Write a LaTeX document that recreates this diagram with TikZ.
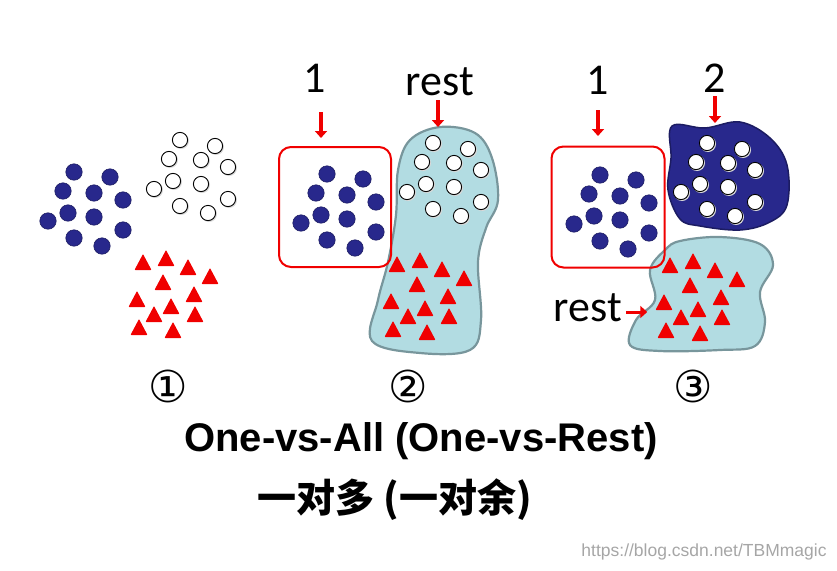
\documentclass[tikz,border=0pt]{standalone}
\usepackage{fontspec}
\setmainfont{Carlito}
\newfontfamily\titlefont{Liberation Sans}
\newfontfamily\symfont{DejaVu Sans}
\newfontfamily\cjk{Noto Sans CJK SC}
\usetikzlibrary{arrows.meta,positioning}
\definecolor{dotblue}{RGB}{40,40,140}
\definecolor{blobblue}{RGB}{178,220,226}
\definecolor{blobedge}{RGB}{120,150,156}
\definecolor{triared}{RGB}{240,0,0}
\tikzset{blue dot/.style={fill=dotblue, draw=dotblue!70!black, line width=0.6pt}}
\tikzset{white dot/.style={fill=white, draw=black, line width=0.9pt}}
\tikzset{red tri/.style={fill=triared, rounded corners=0.8pt}}
\tikzset{class box/.style={draw=triared, line width=2pt, rounded corners=12pt}}
\tikzset{rest blob/.style={fill=blobblue, draw=blobedge, line width=2.2pt}}
\tikzset{dark blob/.style={fill=dotblue, draw=dotblue!70!black, line width=1.5pt}}
\tikzset{red arrow/.style={draw=triared, line width=3.6pt, -{Triangle[length=7pt,width=12pt]}}}
\tikzset{big label/.style={font=\fontsize{44}{44}\selectfont, inner sep=0pt}}
\tikzset{circled/.style={font=\symfont\fontsize{44}{44}\selectfont, inner sep=0pt}}
\tikzset{
  blue group/.pic={
    \foreach \x/\y in {74/172,110/177,63/191,94/193,123/200,68/213,94/217,48/221,123/230,74/238,102/246}
      \path[blue dot] (\x,\y) circle (8.2pt);
  },
  white group/.pic={
    \foreach \x/\y in {180/140,215/146,169/159,201/160,228/167,173/181,201/184,154/189,228/199,180/206,208/213}
      {\fill[black!15] (\x+1,\y+1) circle (8pt);
       \path[white dot] (\x,\y) circle (7.6pt);}
  },
  red group/.pic={
    \foreach \x/\y in {143/263,166/259,188/268,210/277,163/283,194/295,137/300,171/307,154/315,195/315,139/328,173/331}
      \path[red tri] (\x-8.5,\y+7) -- (\x+8.5,\y+7) -- (\x,\y-9) -- cycle;
  }
}
\begin{document}
\begin{tikzpicture}[x=1pt, y=-1pt]
  \useasboundingbox (0,0) rectangle (837,570);

  % panel 1
  \pic at (0,0) {blue group};
  \pic at (0,0) {white group};
  \pic at (0,0) {red group};
  \node [circled] (n1) at (168,386) {①};

  % panel 2
  \path[rest blob] plot[smooth cycle, tension=0.6] coordinates {(440,127) (475,133) (492,158) (498,200) (486,228) (478,262) (481,320) (470,350) (420,353) (372,341) (378,300) (388,262) (396,215) (398,170) (410,140)};
  \node [class box, minimum width=112pt, minimum height=120pt] (box2) at (335,207) {};
  \pic at (253,2) {blue group};
  \pic at (253,3) {white group};
  \pic at (254,2) {red group};
  \node [big label] (one2) at (315,78) {1};
  \node [big label] (rest2) at (440,82) {rest};
  \coordinate (a2) at (321,112);
  \coordinate (b2) at (321,138);
  \coordinate (c2) at (438,100);
  \coordinate (d2) at (438,127);
  \draw [red arrow] (a2) -- (b2);
  \draw [red arrow] (c2) -- (d2);
  \node [circled] (n2) at (408,386) {②};

  % panel 3
  \path[dark blob] plot[smooth cycle, tension=0.6] coordinates {(672,126) (705,128) (740,122) (770,138) (787,165) (787,205) (770,222) (740,230) (700,226) (680,219) (668,190) (671,158)};
  \path[rest blob] plot[smooth cycle, tension=0.6] coordinates {(680,241) (720,237) (760,244) (773,265) (760,292) (765,322) (755,346) (720,350) (660,351) (630,345) (636,320) (655,300) (650,270) (665,250)};
  \node [class box, minimum width=113pt, minimum height=121pt] (box3) at (608,207) {};
  \pic at (526,3) {blue group};
  \pic at (527,3) {white group};
  \pic at (527,3) {red group};
  \node [big label] (one3) at (598,80) {1};
  \node [big label] (two3) at (715,78) {2};
  \node [big label] (rest3) at (588,308) {rest};
  \coordinate (a3) at (598,110);
  \coordinate (b3) at (598,136);
  \coordinate (c3) at (715,96);
  \coordinate (d3) at (715,123);
  \draw [red arrow] (a3) -- (b3);
  \draw [red arrow] (c3) -- (d3);
  \draw [red arrow, line width=3pt] (rest3.east) ++(4,4) coordinate (e3) -- ++(21,0) coordinate (f3);
  \node [circled] (n3) at (693,386) {③};

  % captions
  \node [font=\titlefont\bfseries\fontsize{40}{40}\selectfont] (title) at (421,441) {One-vs-All (One-vs-Rest)};
  \node [font=\cjk\bfseries\fontsize{39}{39}\selectfont] (subtitle) at (395,500) {一对多 (一对余)};
  \node [font=\titlefont\fontsize{17.5}{18}\selectfont, text=black!35] (mark) at (704,552) {https://blog.csdn.net/TBMmagic};
\end{tikzpicture}
\end{document}
